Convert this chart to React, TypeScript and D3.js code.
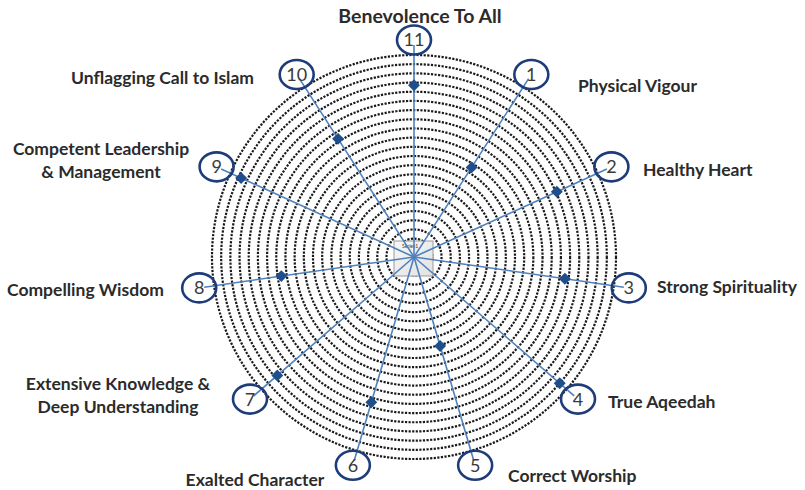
import * as d3 from 'd3';
import { useEffect, useRef } from 'react';

// CHART SIZE
const W = 805;
const H = 490;
const CX = 414;
const CY = 257;
const R_OUTER = 202;

// DATA
const CATEGORY_NUMBERS = [1, 2, 3, 4, 5, 6, 7, 8, 9, 10, 11];
const CATEGORY_LABELS = [
  ['Physical Vigour'],
  ['Healthy Heart'],
  ['Strong Spirituality'],
  ['True Aqeedah'],
  ['Correct Worship'],
  ['Exalted Character'],
  ['Extensive Knowledge &', 'Deep Understanding'],
  ['Compelling Wisdom'],
  ['Competent Leadership', '& Management'],
  ['Unflagging Call to Islam'],
  ['Benevolence To All'],
];
const SCORES = [11.6, 17.1, 16.6, 21.0, 10.1, 16.5, 19.7, 14.6, 20.7, 15.3, 18.7];
const SCALE_MAX = 22;
const RINGS = d3.range(1, SCALE_MAX + 1);
const LEGEND_TEXT = 'Series1';

// label placement, hand set like the original annotations: [x, y, anchor, size]
const LABEL_LAYOUT: [number, number, string, number][] = [
  [578, 86, 'start', 17.5],
  [643, 170, 'start', 17.5],
  [657, 287, 'start', 17.5],
  [608, 402, 'start', 17.5],
  [508, 476, 'start', 17.5],
  [255, 480, 'middle', 17.5],
  [118, 384, 'middle', 17.5],
  [7, 290, 'start', 17.5],
  [101, 149, 'middle', 17.5],
  [254, 78, 'end', 17.5],
  [420, 16, 'middle', 19.5],
];

const COLOR = {
  RING: '#1a1a1a',
  SPOKE: '#4f81bd',
  MARKER: '#1f4e8c',
  BADGE: '#1f3c7a',
  NUMBER: '#3a3a3a',
  LABEL: '#2b2b2b',
};

const App = () => {
  const svgRef = useRef<SVGSVGElement>(null);

  useEffect(() => {
    const svg = d3.select(svgRef.current);
    svg.selectAll('*').remove();

    const r = d3.scaleLinear().domain([0, SCALE_MAX]).range([0, R_OUTER]);
    const angle = d3
      .scaleLinear()
      .domain([0, CATEGORY_NUMBERS.length])
      .range([0, 2 * Math.PI]);
    const px = (n: number, rad: number) => CX + rad * Math.sin(angle(n));
    const py = (n: number, rad: number) => CY - rad * Math.cos(angle(n));

    const g = svg.append('g');

    // dotted rings
    g.append('g')
      .selectAll('circle')
      .data(RINGS)
      .join('circle')
      .attr('cx', CX)
      .attr('cy', CY)
      .attr('r', (d) => r(d))
      .attr('fill', 'none')
      .attr('stroke', COLOR.RING)
      .attr('stroke-width', 2.2)
      .attr('stroke-dasharray', '2.2 1.4');

    // legend box in the middle
    const defs = svg.append('defs');
    const grad = defs
      .append('linearGradient')
      .attr('id', 'boxgrad')
      .attr('x1', 0)
      .attr('y1', 0)
      .attr('x2', 1)
      .attr('y2', 1);
    grad.append('stop').attr('offset', '0%').attr('stop-color', '#f7f7f7');
    grad.append('stop').attr('offset', '100%').attr('stop-color', '#e2e2e2');
    g.append('rect')
      .attr('x', CX - 20)
      .attr('y', CY - 16)
      .attr('width', 39)
      .attr('height', 35)
      .attr('fill', 'url(#boxgrad)')
      .attr('stroke', '#9a9a9a')
      .attr('stroke-width', 1);
    g.append('text')
      .attr('x', CX - 12)
      .attr('y', CY - 9)
      .attr('font-family', 'Lato, sans-serif')
      .attr('font-size', 5)
      .attr('fill', '#333')
      .text(LEGEND_TEXT);

    // spokes
    g.append('g')
      .selectAll('line')
      .data(CATEGORY_NUMBERS)
      .join('line')
      .attr('x1', CX)
      .attr('y1', CY)
      .attr('x2', (d) => px(d, R_OUTER + 10))
      .attr('y2', (d) => py(d, R_OUTER + 10))
      .attr('stroke', COLOR.SPOKE)
      .attr('stroke-width', 1.6);

    // diamonds
    const diamond = d3.symbol().type(d3.symbolDiamond2).size(90);
    g.append('g')
      .selectAll('path')
      .data(SCORES)
      .join('path')
      .attr('d', diamond)
      .attr(
        'transform',
        (d, i) =>
          `translate(${px(CATEGORY_NUMBERS[i], r(d))},${py(CATEGORY_NUMBERS[i], r(d))})`
      )
      .attr('fill', COLOR.MARKER);

    // number badges
    const badge = g
      .append('g')
      .selectAll('g')
      .data(CATEGORY_NUMBERS)
      .join('g')
      .attr(
        'transform',
        (d) => `translate(${px(d, R_OUTER + 15)},${py(d, R_OUTER + 15)})`
      );
    badge
      .append('ellipse')
      .attr('rx', 17)
      .attr('ry', 14.5)
      .attr('fill', 'none')
      .attr('stroke', COLOR.BADGE)
      .attr('stroke-width', 2.6);
    badge
      .append('text')
      .attr('text-anchor', 'middle')
      .attr('dy', '0.36em')
      .attr('font-family', 'Lato, sans-serif')
      .attr('font-weight', 400)
      .attr('font-size', 18)
      .attr('fill', COLOR.NUMBER)
      .text((d) => d);

    // category labels
    const labels = g
      .append('g')
      .selectAll('text')
      .data(CATEGORY_LABELS)
      .join('text')
      .attr('x', (d, i) => LABEL_LAYOUT[i][0])
      .attr('y', (d, i) => LABEL_LAYOUT[i][1])
      .attr('text-anchor', (d, i) => LABEL_LAYOUT[i][2])
      .attr('font-family', 'Lato, sans-serif')
      .attr('font-weight', 700)
      .attr('font-size', (d, i) => LABEL_LAYOUT[i][3])
      .attr('fill', COLOR.LABEL);
    labels
      .selectAll('tspan')
      .data((d) => d)
      .join('tspan')
      .attr('x', function () {
        return (this.parentNode as SVGTextElement).getAttribute('x');
      })
      .attr('dy', (d, i) => (i === 0 ? '0.35em' : '1.3em'))
      .text((d) => d);
  }, []);

  return (
    <div style={{ position: 'absolute', left: 0, top: 0 }}>
      <svg ref={svgRef} width={W} height={H} style={{ display: 'block', background: '#fff' }} />
    </div>
  );
};

export default App;
